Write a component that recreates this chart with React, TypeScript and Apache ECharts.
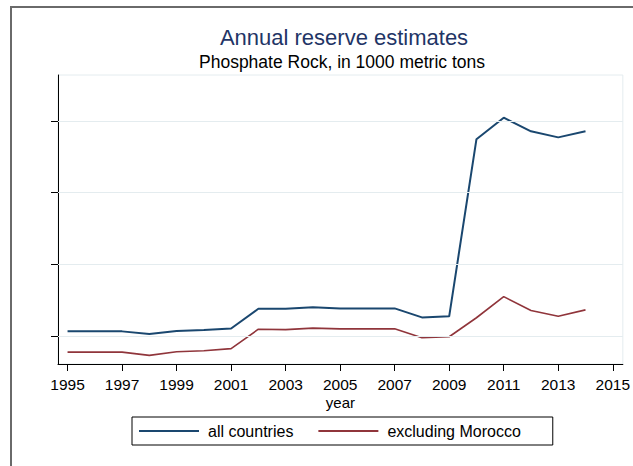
import React, { useEffect, useRef } from "react";
import * as echarts from "echarts";

// Phosphate rock reserve estimates, thousand metric tons
const years = [
  1995, 1996, 1997, 1998, 1999, 2000, 2001, 2002, 2003, 2004,
  2005, 2006, 2007, 2008, 2009, 2010, 2011, 2012, 2013, 2014,
];
const allCountries = [
  11300000, 11300000, 11300000, 10600000, 11400000, 11700000, 12100000,
  17600000, 17600000, 18000000, 17700000, 17700000, 17700000, 15200000,
  15500000, 64900000, 70900000, 67100000, 65400000, 67100000,
];
const excludingMorocco = [
  5500000, 5500000, 5500000, 4600000, 5600000, 5900000, 6500000,
  11900000, 11800000, 12200000, 12000000, 12000000, 12000000, 9500000,
  9800000, 15100000, 21000000, 17100000, 15500000, 17300000,
];
const xTickYears = [1995, 1997, 1999, 2001, 2003, 2005, 2007, 2009, 2011, 2013, 2015];
const yTickValues = [10000000, 30000000, 50000000, 70000000];

const FONT = "'Liberation Sans', Arial, Helvetica, sans-serif";

export default function App() {
  const ref = useRef<HTMLDivElement>(null);

  useEffect(() => {
    if (!ref.current) return;
    const chart = echarts.init(ref.current, undefined, { renderer: "svg" });
    chart.setOption({
      animation: false,
      backgroundColor: "#ffffff",
      textStyle: { fontFamily: FONT },
      graphic: [
        {
          type: "rect",
          shape: { x: 11, y: 7, width: 700, height: 600 },
          style: { fill: "none", stroke: "#6a6a6a", lineWidth: 2 },
          silent: true,
          z: -1,
        },
        {
          type: "text",
          x: 344,
          y: 37,
          style: {
            text: "Annual reserve estimates",
            fontSize: 22,
            fontFamily: FONT,
            fill: "#1f3566",
            textAlign: "center",
            textVerticalAlign: "middle",
          },
        },
        {
          type: "text",
          x: 342,
          y: 62,
          style: {
            text: "Phosphate Rock, in 1000 metric tons",
            fontSize: 17.5,
            fontFamily: FONT,
            fill: "#000000",
            textAlign: "center",
            textVerticalAlign: "middle",
          },
        },
      ],
      grid: {
        left: 58,
        right: 5,
        top: 75,
        bottom: 102,
        show: true,
        borderColor: "#e4ecef",
        borderWidth: 1,
        backgroundColor: "transparent",
      },
      legend: {
        data: ["all countries", "excluding Morocco"],
        left: 132,
        top: 417,
        orient: "horizontal",
        icon: "rect",
        itemWidth: 60,
        itemHeight: 2,
        itemGap: 25,
        padding: [6, 32, 6, 7],
        borderColor: "#000000",
        borderWidth: 1,
        textStyle: {
          fontSize: 16,
          fontFamily: FONT,
          color: "#000000",
          padding: [0, 0, 0, 4],
        },
      },
      xAxis: {
        type: "value",
        min: 1994.65,
        max: 2015.37,
        name: "year",
        nameLocation: "middle",
        nameGap: 31,
        nameMoveOverlap: false,
        nameTextStyle: {
          fontSize: 15,
          lineHeight: 14,
          fontFamily: FONT,
          color: "#000000",
        },
        axisLine: { show: true, lineStyle: { color: "#000000", width: 1 } },
        axisTick: {
          show: true,
          customValues: xTickYears,
          length: 7,
          lineStyle: { color: "#000000", width: 1 },
        },
        axisLabel: {
          show: true,
          customValues: xTickYears,
          fontSize: 15.5,
          lineHeight: 14,
          fontFamily: FONT,
          color: "#000000",
          margin: 13,
          formatter: (v: number) => String(v),
        },
        splitLine: { show: false },
      },
      yAxis: {
        type: "value",
        min: 2200000,
        max: 82800000,
        axisLine: { show: true, lineStyle: { color: "#000000", width: 1 } },
        axisTick: {
          show: true,
          customValues: yTickValues,
          length: 7,
          lineStyle: { color: "#000000", width: 1 },
        },
        axisLabel: { show: false, customValues: yTickValues },
        splitLine: { show: false },
      },
      series: [
        {
          name: "gridlines",
          type: "line",
          data: [],
          z: 1,
          silent: true,
          markLine: {
            silent: true,
            symbol: "none",
            label: { show: false },
            lineStyle: { color: "#e4ecef", type: "solid", width: 1 },
            data: yTickValues.map((v) => ({ yAxis: v })),
          },
        },
        {
          name: "all countries",
          type: "line",
          data: years.map((y, i) => [y, allCountries[i]]),
          symbol: "none",
          z: 3,
          lineStyle: { color: "#1a476f", width: 2 },
          itemStyle: { color: "#1a476f" },
        },
        {
          name: "excluding Morocco",
          type: "line",
          data: years.map((y, i) => [y, excludingMorocco[i]]),
          symbol: "none",
          z: 3,
          lineStyle: { color: "#90353b", width: 1.6 },
          itemStyle: { color: "#90353b" },
        },
      ],
    });
    return () => chart.dispose();
  }, []);

  return (
    <div
      ref={ref}
      style={{ position: "absolute", left: 0, top: 0, width: 633, height: 466 }}
    />
  );
}
